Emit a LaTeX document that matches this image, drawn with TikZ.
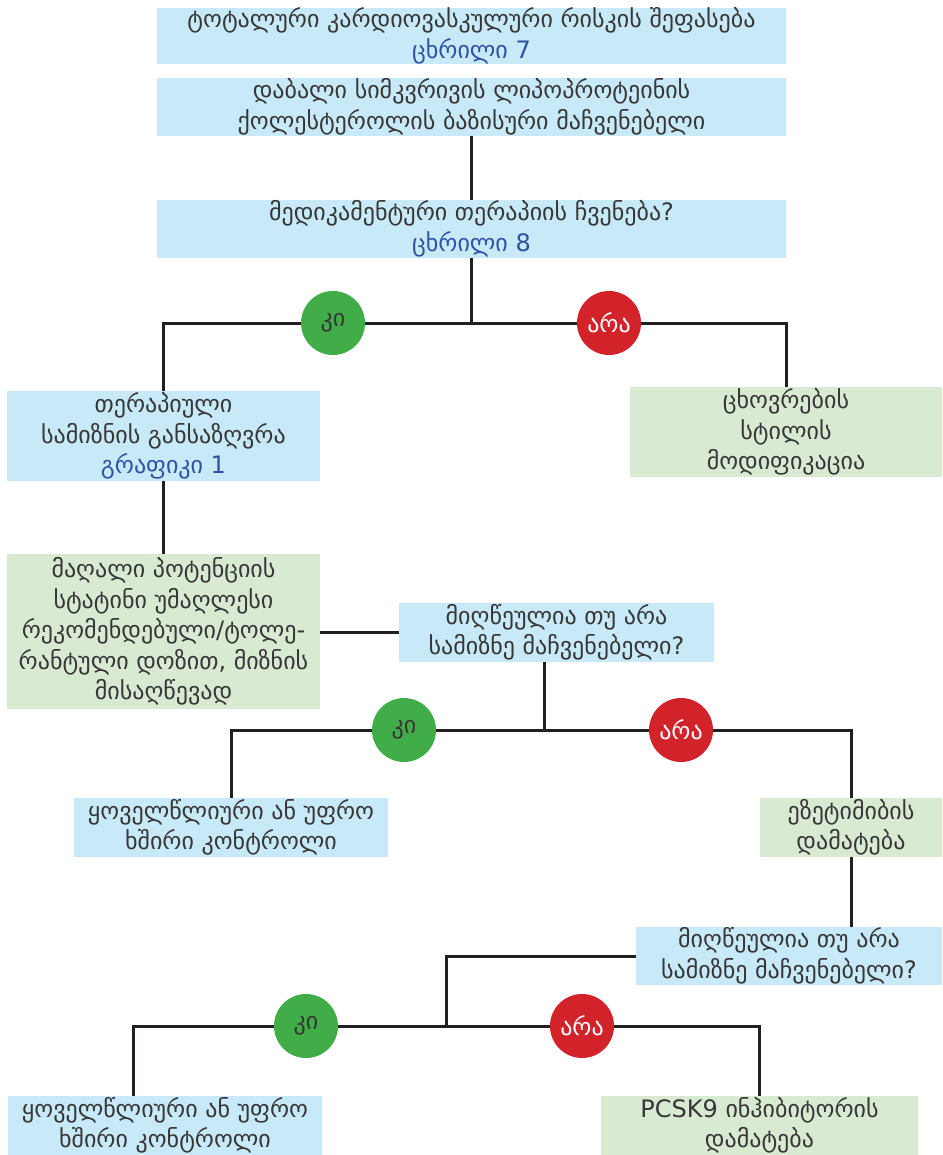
\documentclass[tikz,border=0pt]{standalone}
\usepackage{fontspec}
\setmainfont{DejaVu Sans}
\definecolor{boxblue}{RGB}{199, 233, 248}
\definecolor{boxgreen}{RGB}{217, 234, 211}
\definecolor{refblue}{RGB}{48, 82, 162}
\definecolor{yesgreen}{RGB}{64, 173, 73}
\definecolor{nored}{RGB}{210, 35, 42}
\definecolor{textgray}{RGB}{55, 55, 55}
\definecolor{linegray}{RGB}{35, 31, 32}
\usetikzlibrary{calc}
\newcommand{\refnote}[1]{\textcolor{refblue}{#1}}

\begin{document}
\begin{tikzpicture}[x=1pt, y=-1pt,
  every node/.style={font=\fontsize{24}{30.5}\selectfont, text=textgray, align=center, inner sep=0pt},
  bluebox/.style={fill=boxblue},
  greenbox/.style={fill=boxgreen},
  yesdot/.style={circle, fill=yesgreen, minimum size=64pt},
  nodot/.style={circle, fill=nored, minimum size=64pt, text=white},
  conn/.style={line width=3pt, linegray}]
  \useasboundingbox (0, 0) rectangle (942, 1155);

  % Top: risk and LDL baseline
  \node[bluebox, minimum width=629pt, minimum height=56pt] (risk) at (471.5, 36)
    {ტოტალური კარდიოვასკულური რისკის შეფასება\\ \refnote{ცხრილი 7}};
  \node[bluebox, minimum width=629pt, minimum height=58pt] (ldl) at (471.5, 107)
    {დაბალი სიმკვრივის ლიპოპროტეინის\\ ქოლესტეროლის ბაზისური მაჩვენებელი};
  \node[bluebox, minimum width=629pt, minimum height=58pt] (drug) at (471.5, 229)
    {მედიკამენტური თერაპიის ჩვენება?\\ \refnote{ცხრილი 8}};
  \draw[conn] (ldl.south) -- (drug.north);

  % First decision
  \node[yesdot] (yes1) at (333, 323) {კი};
  \node[nodot] (no1) at (609, 323) {არა};
  \node[bluebox, minimum width=313pt, minimum height=90pt] (target) at (163.5, 436)
    {თერაპიული\\ სამიზნის განსაზღვრა\\ \refnote{გრაფიკი 1}};
  \node[greenbox, minimum width=312pt, minimum height=90pt] (lifestyle) at (786, 432)
    {ცხოვრების\\ სტილის\\ მოდიფიკაცია};
  \draw[conn] (drug.south) -- (drug.south |- yes1);
  \draw[conn] (target.north) |- (yes1.west);
  \draw[conn] (yes1.east) -- (no1.west);
  \draw[conn] (no1.east) -| (lifestyle.north);

  % Statin and first check
  \node[greenbox, minimum width=313pt, minimum height=155pt] (statin) at (163.5, 631.5)
    {მაღალი პოტენციის\\ სტატინი უმაღლესი\\ რეკომენდებული/ტოლე-\\ რანტული დოზით, მიზნის\\ მისაღწევად};
  \node[bluebox, minimum width=315pt, minimum height=59pt] (check1) at (556.5, 632.5)
    {მიღწეულია თუ არა\\ სამიზნე მაჩვენებელი?};
  \draw[conn] (target.south) -- (statin.north);
  \draw[conn] (check1.west) -- (check1.west -| statin.east);

  % Second decision
  \node[yesdot] (yes2) at (404, 730) {კი};
  \node[nodot] (no2) at (681, 730) {არა};
  \coordinate (split2) at (544, 730);
  \node[bluebox, minimum width=314pt, minimum height=59pt] (control1) at (231, 827.5)
    {ყოველწლიური ან უფრო\\ ხშირი კონტროლი};
  \node[greenbox, minimum width=182pt, minimum height=59pt] (ezetimibe) at (851, 827.5)
    {ეზეტიმიბის\\ დამატება};
  \draw[conn] (split2 |- check1.south) -- (split2);
  \draw[conn] (control1.north) |- (yes2.west);
  \draw[conn] (yes2.east) -- (no2.west);
  \draw[conn] (no2.east) -| (ezetimibe.north);

  % Second check
  \node[bluebox, minimum width=306pt, minimum height=58pt] (check2) at (789, 956)
    {მიღწეულია თუ არა\\ სამიზნე მაჩვენებელი?};
  \draw[conn] (ezetimibe.south) -- (ezetimibe.south |- check2.north);

  % Third decision
  \node[yesdot] (yes3) at (306, 1026) {კი};
  \node[nodot] (no3) at (582, 1026) {არა};
  \coordinate (split3) at (446, 1026);
  \coordinate (leg3) at (133, 1026);
  \node[bluebox, minimum width=314pt, minimum height=59pt] (control2) at (165, 1125.5)
    {ყოველწლიური ან უფრო\\ ხშირი კონტროლი};
  \node[greenbox, minimum width=317pt, minimum height=59pt] (pcsk) at (759.5, 1125.5)
    {PCSK9 ინჰიბიტორის\\ დამატება};
  \draw[conn] (check2.west) -| (split3);
  \draw[conn] (yes3.west) -- (leg3) -- (leg3 |- control2.north);
  \draw[conn] (yes3.east) -- (no3.west);
  \draw[conn] (no3.east) -| (pcsk.north);
\end{tikzpicture}
\end{document}
